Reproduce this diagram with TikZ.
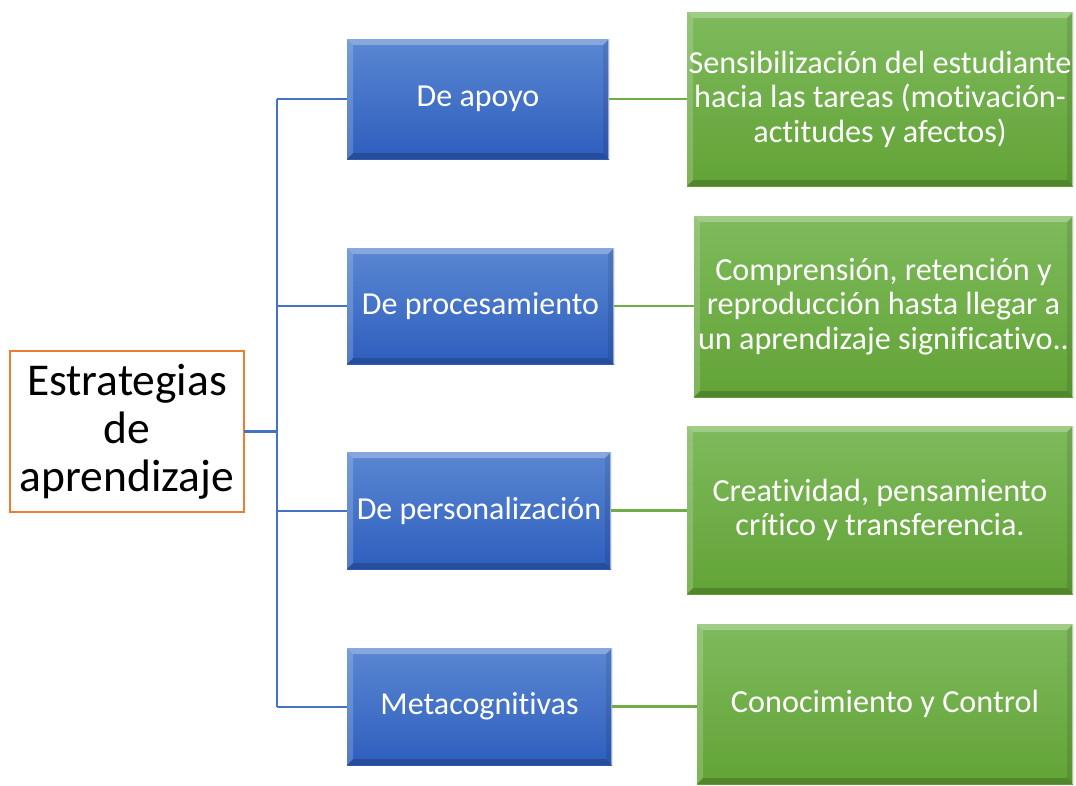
\documentclass[tikz,border=0pt]{standalone}
\usepackage{fontspec}
\setmainfont{Carlito}[Ligatures=NoCommon]
\usetikzlibrary{calc}
\definecolor{bltop}{RGB}{90,135,210}
\definecolor{blbot}{RGB}{46,94,190}
\definecolor{grtop}{RGB}{126,186,92}
\definecolor{grbot}{RGB}{98,163,54}
\definecolor{lineblue}{RGB}{68,114,196}
\definecolor{linegreen}{RGB}{112,173,71}
\definecolor{orng}{RGB}{237,125,49}
\tikzset{
  bevel/.style={path picture={
    \fill[white,opacity=0.28] (path picture bounding box.north west) -- (path picture bounding box.north east) -- ([shift={(-6pt,-6pt)}]path picture bounding box.north east) -- ([shift={(6pt,-6pt)}]path picture bounding box.north west) -- cycle;
    \fill[white,opacity=0.18] (path picture bounding box.north west) -- ([shift={(6pt,-6pt)}]path picture bounding box.north west) -- ([shift={(6pt,6pt)}]path picture bounding box.south west) -- (path picture bounding box.south west) -- cycle;
    \fill[black,opacity=0.10] (path picture bounding box.north east) -- ([shift={(-6pt,-6pt)}]path picture bounding box.north east) -- ([shift={(-6pt,6pt)}]path picture bounding box.south east) -- (path picture bounding box.south east) -- cycle;
    \fill[black,opacity=0.18] (path picture bounding box.south west) -- ([shift={(6pt,6pt)}]path picture bounding box.south west) -- ([shift={(-6pt,6pt)}]path picture bounding box.south east) -- (path picture bounding box.south east) -- cycle;
    \draw[white,opacity=0.5,line width=1pt] ([shift={(-0.5pt,0pt)}]path picture bounding box.north east) -- ([shift={(-0.5pt,0pt)}]path picture bounding box.south east);
  }},
  bluebox/.style={bevel, top color=bltop, bottom color=blbot, draw=none, anchor=north west,
    text=white, align=center, inner sep=0pt, outer sep=0pt, font=\fontsize{32}{36}\selectfont},
  greenbox/.style={bevel, top color=grtop, bottom color=grbot, draw=none, anchor=north west,
    text=white, align=center, inner sep=0pt, outer sep=0pt, font=\fontsize{32.2}{34.5}\selectfont},
  rootbox/.style={draw=orng, line width=2pt, fill=white, anchor=north west, align=center,
    inner sep=0pt, outer sep=0pt, font=\fontsize{45.5}{48}\selectfont},
  bconn/.style={draw=lineblue, line width=2pt},
  gconn/.style={draw=linegreen, line width=2.5pt}
}
\begin{document}
\begin{tikzpicture}[x=1pt,y=-1pt]
\useasboundingbox (0,0) rectangle (1076,785);
\fill[white] (0,0) rectangle (1076,785);

\node[rootbox, minimum width=234pt, minimum height=161pt] (root) at (10,351) {Estrategias\\de\\aprendizaje};

\node[bluebox, minimum width=262pt, minimum height=120pt] (b1) at (347,39) {De apoyo};
\node[bluebox, minimum width=267pt, minimum height=116pt] (b2) at (347,248) {De procesamiento};
\node[bluebox, minimum width=264pt, minimum height=117pt] (b3) at (347,452) {De personalización};
\node[bluebox, minimum width=265pt, minimum height=117pt] (b4) at (347,648) {Metacognitivas};

\node[greenbox, minimum width=386pt, minimum height=174pt] (g1) at (687,12) {Sensibilización del estudiante\\hacia las tareas (motivación-\\actitudes y afectos)};
\node[greenbox, minimum width=379pt, minimum height=181pt] (g2) at (694,216) {Comprensión, retención y\\reproducción hasta llegar a\\un aprendizaje significativo..};
\node[greenbox, minimum width=386pt, minimum height=168pt] (g3) at (687,426) {Creatividad, pensamiento\\crítico y transferencia.};
\node[greenbox, minimum width=376pt, minimum height=160pt] (g4) at (697,624) {Conocimiento y Control};

% blue connectors
\draw[bconn, line width=3pt] (root.east) -- ++(33,0) coordinate (j);
\draw[bconn] (b1.west -| j) -- (b4.west -| j);
\foreach \b in {b1,b2,b3,b4}{
  \draw[bconn] (\b.west -| j) -- (\b.west);
}
% green connectors
\foreach \b/\g in {b1/g1,b2/g2,b3/g3,b4/g4}{
  \draw[gconn] (\b.east) -- (\b.east -| \g.west);
}
\end{tikzpicture}
\end{document}
